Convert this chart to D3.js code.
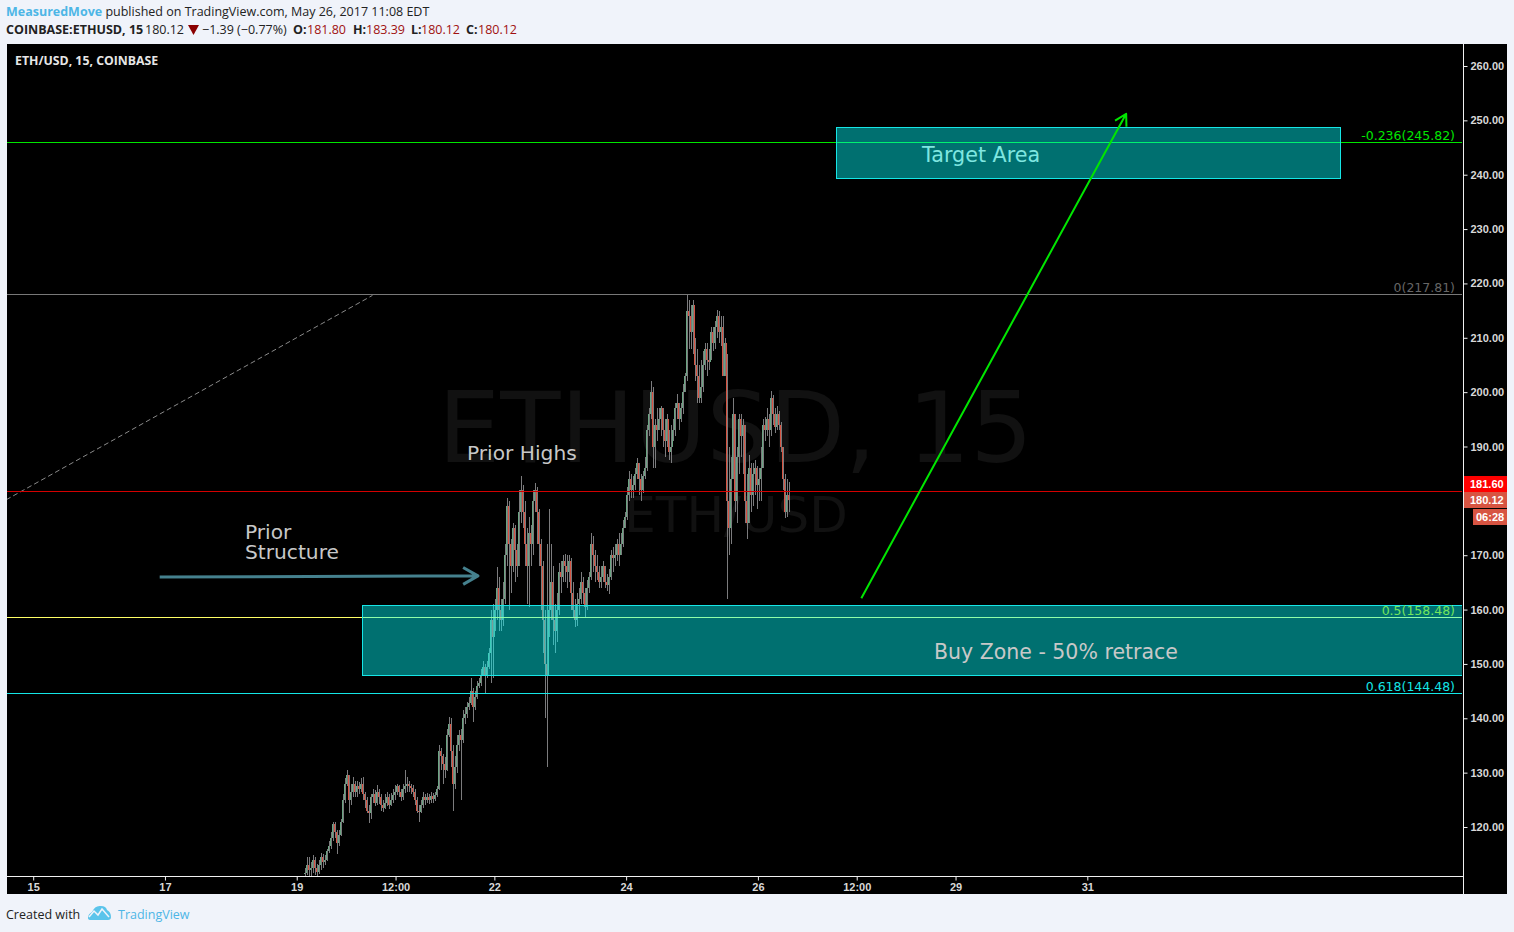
<!DOCTYPE html>
<html><head><meta charset="utf-8">
<script src="https://cdn.jsdelivr.net/npm/d3@7/dist/d3.min.js"></script>
<style>html,body{margin:0;padding:0;background:#f0f3fa;overflow:hidden}svg{display:block}</style>
</head><body><svg id="c" width="1514" height="932"></svg>
<script>
const firstBarDay = 19.11, barStepDays = 0.03038;
const closes = [
111.5,113,112,112.5,114,112.5,111.8,113,114.5,113.5,
114,115.5,116.5,118,120.5,119,117,118.5,121,125,
128,129.5,125,126.5,128,126.5,127.5,127,128,126,
125,123,122.5,125.5,126,124.5,126.5,125.5,124,123.5,
124.5,125.5,124,125,125.8,126.5,127.5,126.5,125.5,127,
127.5,128,127.5,127.2,126.5,125,123,122.8,124,125.5,
125,125.5,125,125.7,125.2,125.8,127,134,133,131.5,
130.5,137,139,134,128,131,135,137,136,140,
140.8,142,142.8,145,142,144,146,146.5,148,149.5,
148,149.5,152,158,155,160,164,160,158,162,
170,179,172,168,175,171,168,178,182,178,
172,168,174,172,180,182,178,172,168,158,
150,148,160,165,158,156,160,167,166,169,
168,167,169,163,160,158,161,162,165,163,
160.5,164,166,172,170,168,167,165,166,168,
165,164.5,166,170,169.5,170,172,170,172,175,
177,181,184,182,183,185,187,184,182,184.5,
186,193,196,200,190,194,193,195,197,193,
191,195,189,190,193,197,198,195,197,200,
203,215,214,211,216,205,203,199,201,205,
208,206,205.5,211,209,212,214,211,212,203,
209,180,175,184,196,180,188,195,192,194,
180,176,186,181,185,186,183,184,186,194,
193,195,193,199,196,193.5,196,194,190,184,
178,181,180.12];
const highs = [
112.5,114.5,114.5,113.5,114.8,114.5,113.2,114,115.2,115,
114.8,116,117.5,119,121,121,119.5,119.5,121.5,126,
129,130.5,129.6,128,129.2,128.5,128.5,128.3,129,129.2,
126.5,125.5,124,126,127,126.8,127.7,127,126,125,
126,126.5,126,126.3,127,127.8,128,127.8,127,128,
130.5,129.2,128.5,128,127.8,127,125.5,124,125,126.5,
126,126.3,126,126.5,126.3,126.5,127.5,135,134.5,133.5,
132.8,138,140.3,140,135,133,137,137.8,138,141.5,
142,143,144,147.5,145.5,145,146.8,147.5,149,150.5,
150,150.5,153,160,161,162,167.8,166,162,165,
172,180.5,180,173,176,175.5,172,182,184.5,183,
180,175,177,175.5,182,183.2,182.5,178.5,173,169,
160,172,178.5,172,168,161,163,168.5,169,170,
170.3,170,170,169.5,165,162,163,164,167,166,
164,165.5,167,174,173.5,171,170,168,168,169,
168,166.5,167.5,171,171.5,172,173,174,174,176.5,
178,182.5,185.5,185,184.5,186,187.8,187,185,185.5,
188,194,197,202,201,195,197,197,197.5,197,
195,196,193,194,195,198,199.7,198,198,201.5,
203.5,217.9,217,216,217,210,208,205,206,207.5,
209,209,208,212,212,213,215.2,215,214,214,
210,207,190,188,199,196,190,196,196,195,
194,185,188.5,187,187,187.5,186.5,186,190,195,
195.5,197,196,200.2,199.5,197,197.5,196.5,194.5,190,
185,184,183.39];
const lows = [
111,111.2,111,111,111.5,111.2,111,111.3,112,112.5,
113,113.8,115.2,116,117.5,118,115,116.5,118.3,120.8,
124.5,127.5,122.5,124,125.5,125.5,125.5,126,126.5,125,
123.5,122.5,120.8,121.5,124.5,123.8,124,124.3,123,122.8,
123.3,123.8,123.3,123.8,124.5,125,125.8,125.5,124.8,125,
126.3,126.5,126.5,126,125.5,124,122.5,121,122.5,123.5,
124,124.5,124.3,124.5,124.5,124.8,125.6,126.8,130.5,128,
129,130.3,136.5,131,123,127,130,134,125,135.5,
139,140,141.5,142.5,139.3,141.5,143.5,145.5,146,147.8,
144.5,147.5,149,146.5,147.5,156,158,156,156,157,
161,168,160,163,167,165,166,168,176,175,
168,161,160.5,168,170,178,172,168,160,152,
140,131,155,158,153.5,152,154,159,163,165,
165,164,165,160,158.5,156.8,157,159,161,161,
158.5,160,163,165.5,167,165,165.5,164,164,165,
164,163.5,162.8,165.5,167,168,169,168,170,171.5,
175,176.5,180,180.5,180.5,182,184,181,180,181.5,
184,185.5,192,195,186,186,191,193,192,190,
188,190,187.5,187,191,192,195,193,194.5,196,
200,202,208,208,207,202,198,198,198,200,
204,203,204,206,207.5,208,210,209,208.5,203,
203,162,170,172,184,178,176,185,188,185,
176,173,176,178,179,181,178.5,180,180,186,
191,192,190,192,194,192.5,193,193,189,182,
176.9,177,178];

const priceTicks = [120,130,140,150,160,170,180,190,200,210,220,230,240,250,260];
const timeTicks = [15,17,19,20.5,22,24,26,27.5,29,31];
const timeLabels = ["15","17","19","12:00","22","24","26","12:00","29","31"];
const fibLevels = [245.82,217.81,158.48,144.48];
const fibTexts = ["-0.236(245.82)","0(217.81)","0.5(158.48)","0.618(144.48)"];
const fibLineColors = ["#00e600","#787878","#ffff66","#14e6e6"];
const fibTextColors = ["#00e600","#666666","#73e65c","#14e6e6"];
const sessionHigh = 181.60, lastPrice = 180.12;
const buyZone = {d0:19.987,d1:38.3,p0:160.75,p1:147.85};
const targetZone = {d0:27.19,d1:34.84,p0:248.7,p1:239.3};
const greenArrow = [[27.57,162.1],[31.59,251.2]];
const blueArrow = [[16.92,166.0],[21.75,166.2]];
const dashedTrend = [[14.59,180.2],[20.15,217.8]];

const svg = d3.select("#c");
const W=[7,1463], H=[44,876];
const x = d3.scaleLinear().domain([15,31]).range([33.2,1087.3]);
const y = d3.scaleLinear().domain([120,260]).range([827,66]);
const sansH = "'Open Sans',sans-serif", dj="'DejaVu Sans',sans-serif", lib="'Liberation Sans',Arial,sans-serif";

svg.append("rect").attr("width",1514).attr("height",932).attr("fill","#f0f3fa");
svg.append("rect").attr("x",7).attr("y",44).attr("width",1500).attr("height",850).attr("fill","#000");
svg.append("defs").append("clipPath").attr("id","plot").append("rect")
  .attr("x",W[0]).attr("y",H[0]).attr("width",W[1]-W[0]-1).attr("height",H[1]-H[0]);
const g = svg.append("g").attr("clip-path","url(#plot)");

// watermark
g.append("text").attr("x",735.5).attr("y",462).attr("text-anchor","middle").attr("font-family",dj).attr("font-size",98.5).attr("fill","#111").text("ETHUSD, 15");
g.append("text").attr("x",736).attr("y",532).attr("text-anchor","middle").attr("font-family",dj).attr("font-size",50).attr("fill","#111").text("ETH/USD");

// candles
const bars = closes.map((c,i)=>({t:firstBarDay+i*barStepDays,o:i?closes[i-1]:c,c,h:highs[i],l:lows[i]}));
const cg = g.append("g").attr("shape-rendering","crispEdges");
cg.selectAll(".w").data(bars).join("rect").attr("class","w")
  .attr("x",d=>Math.round(x(d.t))+1).attr("width",1)
  .attr("y",d=>y(d.h)).attr("height",d=>Math.max(1,y(d.l)-y(d.h))).attr("fill","#7b7b7d");
cg.selectAll(".b").data(bars).join("rect").attr("class","b")
  .attr("x",d=>Math.round(x(d.t))).attr("width",1)
  .attr("y",d=>y(Math.max(d.o,d.c))).attr("height",d=>Math.max(1,Math.abs(y(d.o)-y(d.c))))
  .attr("fill",d=>d.c>=d.o?"#6ba583":"#d75442");

// trend + horizontals
g.append("line").attr("x1",x(dashedTrend[0][0])).attr("y1",y(dashedTrend[0][1])).attr("x2",x(dashedTrend[1][0])).attr("y2",y(dashedTrend[1][1]))
  .attr("stroke","#8a8a8a").attr("stroke-dasharray","5 3");
fibLevels.forEach((p,i)=>{
  g.append("line").attr("x1",W[0]).attr("x2",W[1]-1).attr("y1",Math.round(y(p))+.5-1).attr("y2",Math.round(y(p))+.5-1).attr("stroke",fibLineColors[i]);
});
g.append("line").datum(sessionHigh).attr("x1",W[0]).attr("x2",W[1]-1).attr("y1",491.5).attr("y2",491.5).attr("stroke","#d40000");

// zones
[buyZone,targetZone].forEach(z=>{
  g.append("rect").attr("x",Math.round(x(z.d0))+.5).attr("y",Math.round(y(z.p0))+.5)
   .attr("width",Math.round(x(z.d1)-x(z.d0))).attr("height",Math.round(y(z.p1)-y(z.p0)))
   .attr("fill","rgba(0,255,255,0.44)").attr("stroke","#16e6e6");
});

// arrows
function arrow(pts,color,w,size){
  const [a,b]=pts.map(p=>[x(p[0]),y(p[1])]);
  const ang=Math.atan2(b[1]-a[1],b[0]-a[0]);
  const d=d3.path(); d.moveTo(a[0],a[1]); d.lineTo(b[0],b[1]);
  d.moveTo(b[0]+size*Math.cos(ang+2.62),b[1]+size*Math.sin(ang+2.62));
  d.lineTo(b[0],b[1]);
  d.lineTo(b[0]+size*Math.cos(ang-2.62),b[1]+size*Math.sin(ang-2.62));
  g.append("path").attr("d",d.toString()).attr("fill","none").attr("stroke",color).attr("stroke-width",w).attr("stroke-linejoin","round");
}
arrow(greenArrow,"#00e600",2,13);
arrow(blueArrow,"#45818e",3,17);

// annotations
const ann=[["Prior Highs",467,460,"#c8c8c8",20.2],["Prior",245,539,"#c8c8c8",20.2],["Structure",245,559,"#c8c8c8",20.2],
  ["Target Area",922,162,"#7fe6e0",20.7],["Buy Zone - 50% retrace",934,659,"#c8c8c8",20.5]];
ann.forEach(a=>g.append("text").attr("x",a[1]).attr("y",a[2]).attr("font-family",dj).attr("font-size",a[4]).attr("fill",a[3]).text(a[0]));
fibTexts.forEach((t,i)=>{
  g.append("text").attr("x",1455).attr("y",Math.round(y(fibLevels[i]))-3).attr("text-anchor","end").attr("font-family",dj).attr("font-size",12.5).attr("fill",fibTextColors[i]).text(t);
});
g.append("text").attr("x",15).attr("y",64.5).attr("font-family",sansH).attr("font-weight",700).attr("font-size",12.3).attr("fill","#e6e6e6").text("ETH/USD, 15, COINBASE");

// axes
const yAxis=d3.axisRight(y).tickValues(priceTicks).tickFormat(d3.format(".2f")).tickSize(4).tickPadding(3);
const ya=svg.append("g").attr("transform","translate(1463.5,0)").call(yAxis);
ya.select(".domain").attr("d","M0,44V894");
const xAxis=d3.axisBottom(x).tickValues(timeTicks).tickFormat((d,i)=>timeLabels[i]).tickSize(4).tickPadding(3);
const xa=svg.append("g").attr("transform","translate(0,876.5)").call(xAxis);
xa.select(".domain").attr("d","M7,0H1463");
[ya,xa].forEach(a=>{
  a.selectAll("path,line").attr("stroke","#f0f0f0");
  a.selectAll("text").attr("font-family",lib).attr("font-weight",700).attr("font-size",11).attr("fill","#d8d8d8");
});

// price tags
const tags=[[1464,476,43,16,"#ff0000",sessionHigh.toFixed(2),1470,488],[1464,492,43,16,"#d75442",lastPrice.toFixed(2),1470,504],[1473,509,34,16,"#d75442","06:28",1476,521]];
tags.forEach(t=>{
  svg.append("rect").attr("x",t[0]).attr("y",t[1]).attr("width",t[2]).attr("height",t[3]).attr("fill",t[4]);
  svg.append("text").attr("x",t[6]).attr("y",t[7]).attr("font-family",lib).attr("font-weight",700).attr("font-size",11).attr("fill","#fff").text(t[5]);
});

// header
const h1=svg.append("text").attr("x",6).attr("y",16).attr("font-family",sansH).attr("font-size",12.5).attr("fill","#222");
h1.append("tspan").attr("fill","#4db6e6").attr("font-weight",700).text("MeasuredMove");
h1.append("tspan").text(" published on TradingView.com, May 26, 2017 11:08 EDT");
const h2=svg.append("text").attr("y",34).attr("font-family",sansH).attr("font-size",12.5).attr("fill","#222");
const headerRuns=[["COINBASE:ETHUSD, 15",6,700,"#222"],["180.12",145,400,"#222"],["−1.39 (−0.77%)",202,400,"#222"],
  ["O:",293,700,"#222"],["181.80",307,400,"#a01010"],["H:",353,700,"#222"],["183.39",366,400,"#a01010"],
  ["L:",411,700,"#222"],["180.12",421,400,"#a01010"],["C:",466,700,"#222"],["180.12",478,400,"#a01010"]];
headerRuns.forEach(r=>h2.append("tspan").attr("x",r[1]).attr("font-weight",r[2]).attr("fill",r[3]).text(r[0]));
svg.append("path").attr("d","M188,25H199L193.5,35Z").attr("fill","#8b0000");

// footer
svg.append("text").attr("x",6).attr("y",919).attr("font-family",sansH).attr("font-size",12.5).attr("fill","#222").text("Created with");
svg.append("path").attr("d","M88,918 Q88,914 92,912 Q95,905 101,906 Q106,906 107,910 Q111,912 111,917 Q111,920 108,920 L91,920 Q88,920 88,918Z").attr("fill","#5bc4eb");
svg.append("path").attr("d","M89,917 L94,911 L98,915 L102,909 L109,917").attr("fill","none").attr("stroke","#f0f3fa").attr("stroke-width",1.5);
svg.append("text").attr("x",118).attr("y",919).attr("font-family",sansH).attr("font-size",12.5).attr("fill","#4db6e6").text("TradingView");
</script></body></html>
